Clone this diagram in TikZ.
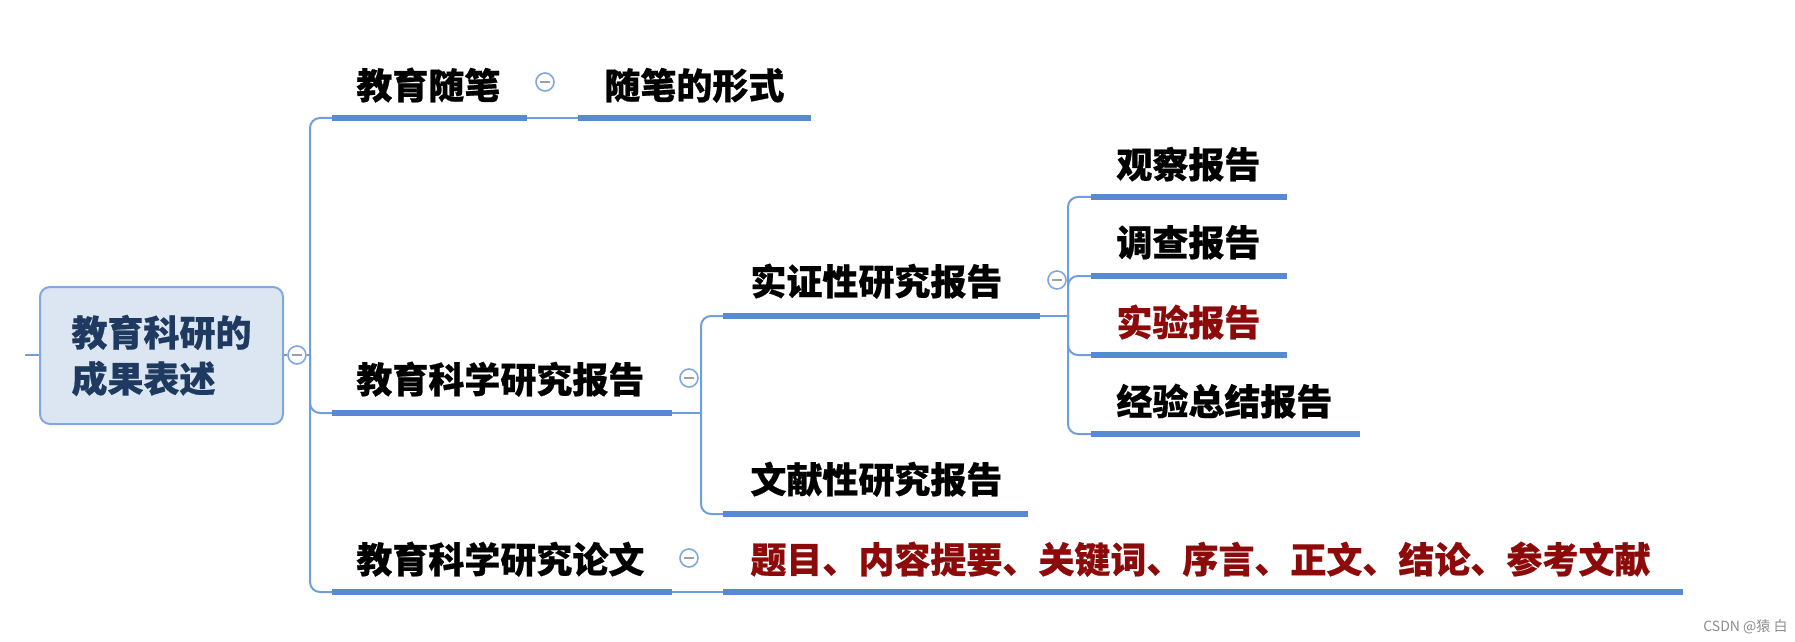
\documentclass[tikz,border=0pt]{standalone}
\usepackage{fontspec}
\newfontfamily\cjk{Noto Sans CJK SC}[BoldFeatures={FakeBold=0.6}]
\definecolor{connc}{RGB}{110,158,222}
\definecolor{ulc}{RGB}{88,138,210}
\definecolor{boxfill}{RGB}{220,230,242}
\definecolor{boxdraw}{RGB}{128,168,224}
\definecolor{roottext}{RGB}{30,58,96}
\definecolor{darkred}{RGB}{140,10,10}
\definecolor{minusc}{RGB}{150,160,175}
\tikzset{
  conn/.style={draw=connc, line width=1pt},
  uline/.style={draw=ulc, line width=2.6pt},
  topic/.style={anchor=base west, inner sep=0pt, font=\cjk\bfseries\fontsize{18pt}{22pt}\selectfont, text=black},
  redtopic/.style={topic, text=darkred},
  collapse/.style={circle, draw=boxdraw, line width=0.8pt, fill=white, minimum size=9pt, inner sep=0pt,
    path picture={\draw[minusc, line width=0.8pt] ([xshift=-2.3pt]path picture bounding box.center) -- ([xshift=2.3pt]path picture bounding box.center);}},
  rootbox/.style={draw=boxdraw, fill=boxfill, line width=1pt, rounded corners=5pt, minimum width=121.5pt, minimum height=68.5pt,
    font=\cjk\bfseries\fontsize{18pt}{23pt}\selectfont, text=roottext, align=left, inner sep=0pt}
}
\begin{document}
\begin{tikzpicture}[x=0.5pt, y=-0.5pt]
\useasboundingbox (0,0) rectangle (1795,642);

% root
\node[rootbox] (root) at (161.5,355.5) {教育科研的\\成果表述};
\coordinate (stub) at (25,355);
\draw[conn] (stub) -- (root.west |- stub);
\node[collapse] (c0) at (297,355) {};
\coordinate (j0) at (310,355);

% texts
\node[topic] (t1) at (356,99) {教育随笔};
\node[topic] (t1b) at (604,99) {随笔的形式};
\node[topic] (t2) at (356,393) {教育科学研究报告};
\node[topic] (t21) at (750,295) {实证性研究报告};
\node[topic] (t22) at (750,493) {文献性研究报告};
\node[topic] (t211) at (1116,178) {观察报告};
\node[topic] (t212) at (1116,256) {调查报告};
\node[redtopic] (t213) at (1116,336) {实验报告};
\node[topic] (t214) at (1116,415) {经验总结报告};
\node[topic] (t3) at (356,573) {教育科学研究论文};
\node[redtopic] (t31) at (750,573) {题目、内容提要、关键词、序言、正文、结论、参考文献};

% underline end points
\coordinate (u1l) at (332,118);   \coordinate (u1r) at (527,118);
\coordinate (u1bl) at (578,118);  \coordinate (u1br) at (811,118);
\coordinate (u2l) at (332,413);   \coordinate (u2r) at (672,413);
\coordinate (u21l) at (723,316);  \coordinate (u21r) at (1040,316);
\coordinate (u22l) at (723,514);  \coordinate (u22r) at (1028,514);
\coordinate (u211l) at (1091,197); \coordinate (u211r) at (1287,197);
\coordinate (u212l) at (1091,276); \coordinate (u212r) at (1287,276);
\coordinate (u213l) at (1091,355); \coordinate (u213r) at (1287,355);
\coordinate (u214l) at (1091,434); \coordinate (u214r) at (1360,434);
\coordinate (u3l) at (332,592);   \coordinate (u3r) at (672,592);
\coordinate (u31l) at (723,592);  \coordinate (u31r) at (1683,592);
\coordinate (j2) at (701,413);
\coordinate (j21) at (1068,316);

% connectors
\draw[conn] (root.east |- c0) -- (c0.west);
\draw[conn] (c0.east) -- (j0);
\draw[conn, rounded corners=5pt] (j0) |- (u1l);
\draw[conn, rounded corners=5pt] (j0) |- (u2l);
\draw[conn, rounded corners=5pt] (j0) |- (u3l);
\draw[conn] (u1r) -- (u1bl);
\draw[conn] (u2r) -- (j2);
\draw[conn, rounded corners=5pt] (j2) |- (u21l);
\draw[conn, rounded corners=5pt] (j2) |- (u22l);
\draw[conn] (u21r) -- (j21);
\draw[conn, rounded corners=5pt] (j21) |- (u211l);
\draw[conn, rounded corners=5pt] (j21) |- (u212l);
\draw[conn, rounded corners=5pt] (j21) |- (u213l);
\draw[conn, rounded corners=5pt] (j21) |- (u214l);
\draw[conn] (u3r) -- (u31l);

% underlines
\foreach \a/\b in {u1l/u1r, u1bl/u1br, u2l/u2r, u21l/u21r, u22l/u22r, u211l/u211r, u212l/u212r, u213l/u213r, u214l/u214r, u3l/u3r, u31l/u31r}
  \draw[uline] (\a) -- (\b);

% collapse markers
\node[collapse] (c1) at (545,82) {};
\node[collapse] (c2) at (689,378) {};
\node[collapse] (c3) at (1057,280) {};
\node[collapse] (c4) at (689,558) {};

% watermark
\node[anchor=west, inner sep=0pt, font=\cjk\fontsize{7pt}{8pt}\selectfont, text=black!45] (wm) at (1703,627) {CSDN @猿 白};
\end{tikzpicture}
\end{document}
